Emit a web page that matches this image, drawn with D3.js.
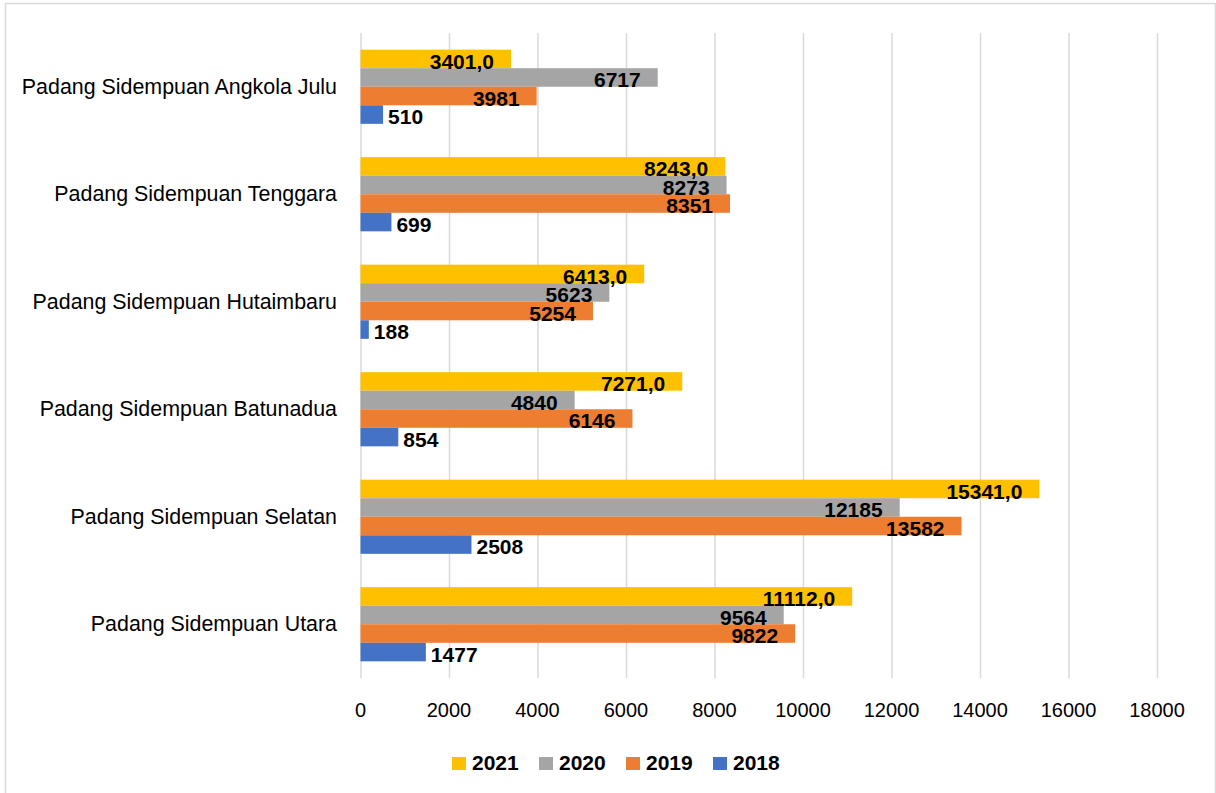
<!DOCTYPE html>
<html lang="en">
<head>
    <meta charset="UTF-8">
    <title>Padang Sidempuan 2018-2021</title>
    <style>
        body { margin: 0; background: #fff; }
        svg { display: block; font-family: 'Liberation Sans', Arial, sans-serif; }
        .grid line { stroke: #d9d9d9; stroke-width: 1.5px; }
        .grid path { display: none; }
        .tick-label { font-size: 20px; fill: #000; }
        .cat-label { font-size: 21.4px; fill: #000; }
        .val { font-size: 21px; font-weight: bold; fill: #000; }
        .legend text { font-size: 21px; font-weight: bold; fill: #000; }
    </style>
</head>
<body>
    <svg width="1216" height="793"></svg>
    <script src="https://d3js.org/d3.v7.min.js"></script>
    <script>
        // Data (top to bottom, as drawn)
        const categories = [
            "Padang Sidempuan Angkola Julu",
            "Padang Sidempuan Tenggara",
            "Padang Sidempuan Hutaimbaru",
            "Padang Sidempuan Batunadua",
            "Padang Sidempuan Selatan",
            "Padang Sidempuan Utara"
        ];
        const years = ["2021", "2020", "2019", "2018"];
        const values2021 = [3401, 8243, 6413, 7271, 15341, 11112];
        const values2020 = [6717, 8273, 5623, 4840, 12185, 9564];
        const values2019 = [3981, 8351, 5254, 6146, 13582, 9822];
        const values2018 = [510, 699, 188, 854, 2508, 1477];
        const xTicks = [0, 2000, 4000, 6000, 8000, 10000, 12000, 14000, 16000, 18000];

        const seriesValues = {"2021": values2021, "2020": values2020, "2019": values2019, "2018": values2018};
        const colors = {"2021": "#FFC000", "2020": "#A5A5A5", "2019": "#ED7D31", "2018": "#4472C4"};

        // plot area
        const plot = {left: 360.5, right: 1157, top: 33, bottom: 678};

        const svg = d3.select("svg");

        // chart border
        svg.append("rect")
            .attr("x", 5.5).attr("y", 3.5)
            .attr("width", 1210).attr("height", 800)
            .attr("fill", "#fff")
            .attr("stroke", "#d9d9d9")
            .attr("stroke-width", 1.5);

        const x = d3.scaleLinear()
            .domain([0, 18000])
            .range([plot.left, plot.right]);

        const y = d3.scaleBand()
            .domain(categories)
            .range([plot.top, plot.bottom])
            .paddingInner(0.31)
            .paddingOuter(0.155);

        const ySub = d3.scaleBand()
            .domain(years)
            .range([0, y.bandwidth()]);

        // gridlines
        svg.append("g")
            .attr("class", "grid")
            .attr("transform", "translate(0," + plot.bottom + ")")
            .call(d3.axisBottom(x).tickValues(xTicks).tickSize(-(plot.bottom - plot.top)).tickFormat(""));

        // x tick labels
        svg.append("g")
            .selectAll("text")
            .data(xTicks)
            .enter().append("text")
            .attr("class", "tick-label")
            .attr("x", d => x(d))
            .attr("y", 717)
            .attr("text-anchor", "middle")
            .text(d => d);

        // category labels
        svg.append("g")
            .selectAll("text")
            .data(categories)
            .enter().append("text")
            .attr("class", "cat-label")
            .attr("x", 337)
            .attr("y", d => y(d) + y.bandwidth() / 2 + 7)
            .attr("text-anchor", "end")
            .text(d => d);

        // bars
        const rows = [];
        categories.forEach(function(c, i) {
            years.forEach(function(yr) {
                rows.push({cat: c, year: yr, value: seriesValues[yr][i]});
            });
        });

        svg.append("g")
            .selectAll("rect")
            .data(rows)
            .enter().append("rect")
            .attr("x", x(0))
            .attr("y", d => y(d.cat) + ySub(d.year))
            .attr("width", d => x(d.value) - x(0))
            .attr("height", ySub.bandwidth())
            .attr("fill", d => colors[d.year]);

        // value labels (2018 outside the bar end, the others inside)
        svg.append("g")
            .selectAll("text")
            .data(rows)
            .enter().append("text")
            .attr("class", "val")
            .attr("x", d => d.year === "2018" ? x(d.value) + 5 : x(d.value) - 17)
            .attr("y", d => y(d.cat) + ySub(d.year) + ySub.bandwidth() + 0.5)
            .attr("text-anchor", d => d.year === "2018" ? "start" : "end")
            .text(d => d.year === "2021" ? d.value + ",0" : d.value);

        // legend
        const legend = svg.append("g")
            .attr("class", "legend")
            .selectAll("g")
            .data(years)
            .enter().append("g")
            .attr("transform", (d, i) => "translate(" + (452 + i * 87) + ",757)");

        legend.append("rect")
            .attr("width", 14)
            .attr("height", 13)
            .attr("fill", d => colors[d]);

        legend.append("text")
            .attr("x", 20)
            .attr("y", 13)
            .text(d => d);
    </script>
</body>
</html>
